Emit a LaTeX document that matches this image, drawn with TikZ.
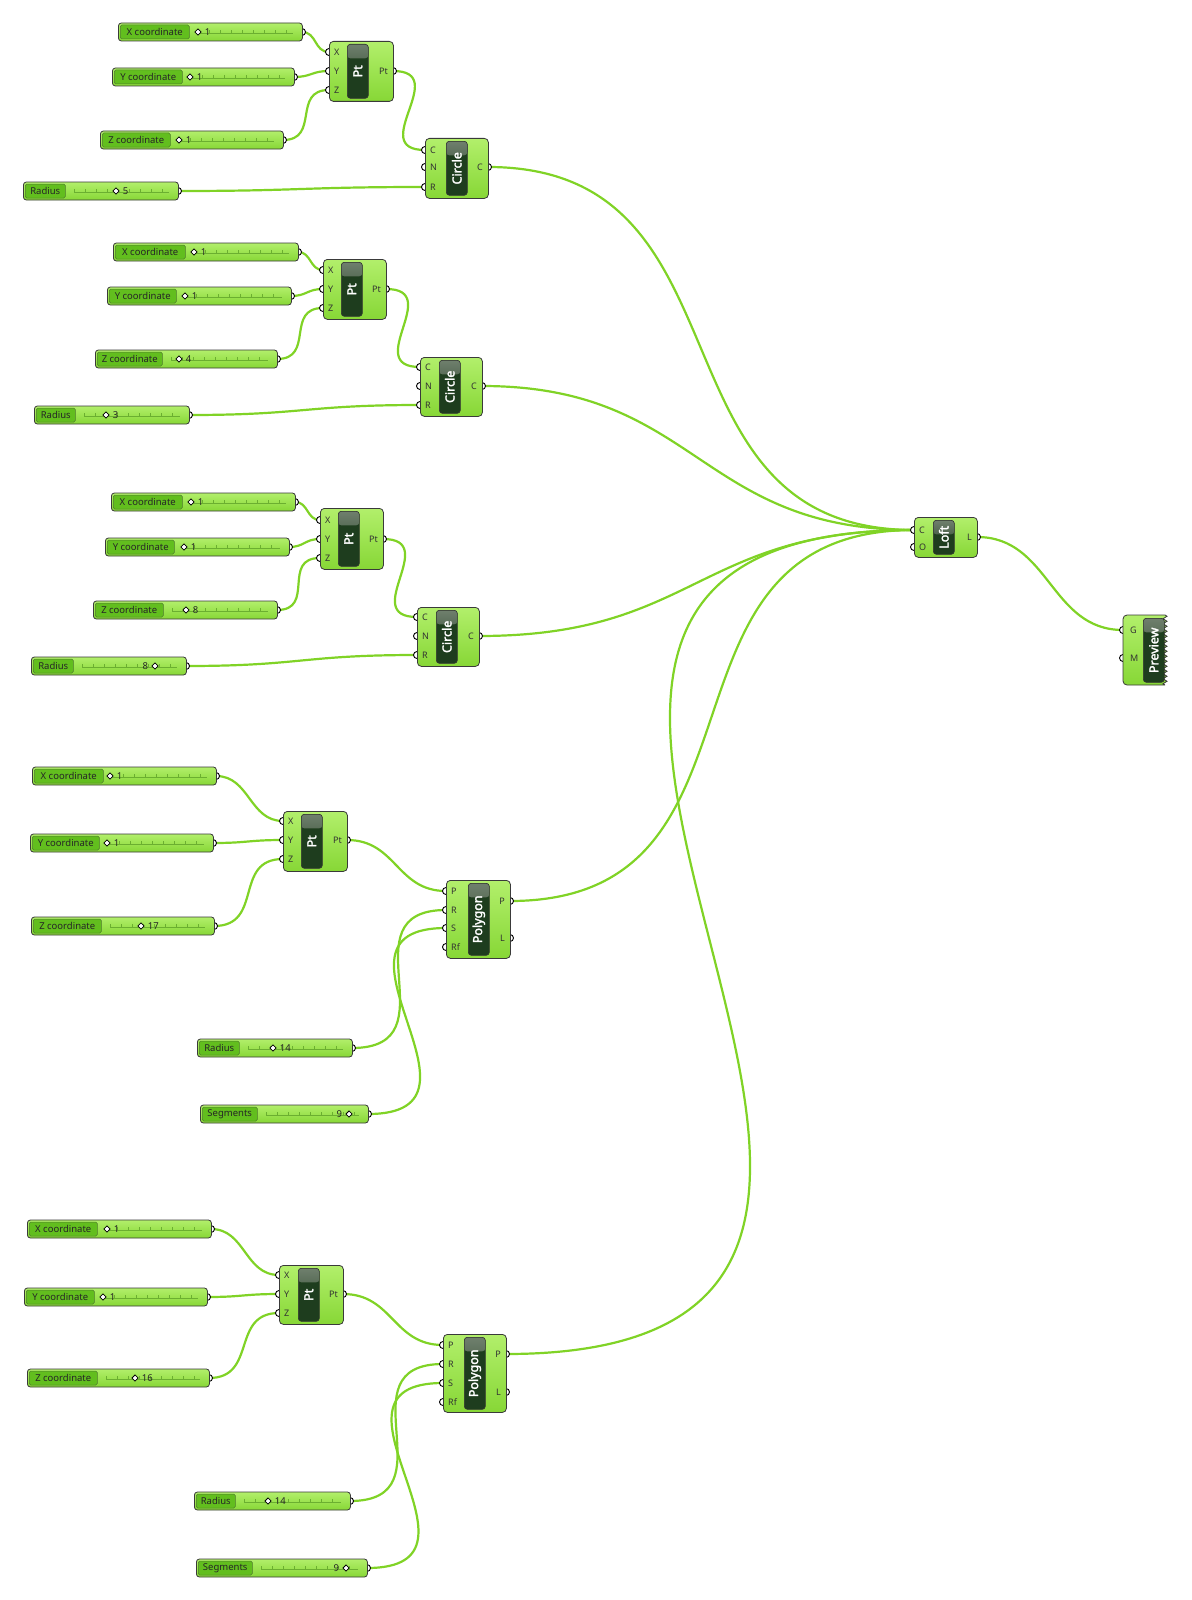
\documentclass[tikz,border=0pt]{standalone}
\usepackage{fontspec}
\setmainfont{Noto Sans}[AutoFakeBold=2.2]
\usetikzlibrary{positioning,calc,backgrounds,shapes.geometric,decorations.pathmorphing}
\definecolor{ghwire}{HTML}{80D326}
\definecolor{ghtop}{HTML}{B2EF6B}
\definecolor{ghbot}{HTML}{87D736}
\definecolor{ghlab}{HTML}{62BE1E}
\definecolor{ghbar}{HTML}{1E3D1E}
\definecolor{ghbarhi}{HTML}{6F7F6D}
\definecolor{ghline}{HTML}{3A3A3A}
\definecolor{ghtick}{HTML}{6BAF30}

% slider: name, left, right, y, split, label, knob x, value, side of value
\newcommand{\ghslider}[9]{%
  \node[port] (#1o) at (#3,#4) {};
  \node[sbody,minimum width={(#3-#2)*1pt},anchor=west] (#1) at (#2,#4) {};
  \node[slabel,minimum width={(#5-#2-2)*1pt},anchor=west] (#1l) at (#2+2,#4) {#6};
  \pgfmathsetmacro\slA{#5+9}\pgfmathsetmacro\slB{#5+20}\pgfmathsetmacro\slC{#3-9}
  \draw[stick] (\slA,#4+1.5) -- (\slC,#4+1.5);
  \foreach \tx in {\slA,\slB,...,\slC} \draw[stick] (\tx,#4+1.5) -- (\tx,#4-2);
  \node[knob] (#1d) at (#7,#4) {};
  \node[sval,#9=3pt of #1d] (#1v) {#8};
}

% component: name, left, top, right, bottom, bar left, title, inputs, outputs
\newcommand{\ghcomp}[9]{%
  \foreach \pl/\py in {#8} \node[port] (#1-in-\pl) at (#2,\py) {};
  \foreach \pl/\py in {#9} \node[port] (#1-out-\pl) at (#4,\py) {};
  \node[cbody,minimum width={(#4-#2)*1pt},minimum height={(#5-#3)*1pt},anchor=north west] (#1) at (#2,#3) {};
  \foreach \pl/\py in {#8} \node[plab,anchor=west] (#1-il-\pl) at (#2+5,\py) {\pl};
  \foreach \pl/\py in {#9} \node[plab,anchor=east] (#1-ol-\pl) at (#4-5,\py) {\pl};
  \node[cbar,minimum height={(#5-#3-6)*1pt},anchor=north west] (#1b) at (#6,#3+3) {};
  \node[ctitle] (#1t) at (#1b.center) {#7};
}

% wire with horizontal tangents at both ports
\newcommand{\ghwire}[2]{%
  \draw[wire] let \p1=(#1.center), \p2=(#2.center),
    \n1={max(0.5*abs(\x2-\x1),0.75*abs(\y2-\y1))} in
    (\p1) .. controls +(\n1,0) and +(-\n1,0) .. (\p2);
}

\begin{document}
\begin{tikzpicture}[x=1pt,y=-1pt,
  every node/.style={font=\fontsize{9.5}{11}\selectfont},
  port/.style={circle,draw=black,fill=white,line width=0.9pt,minimum size=7pt,inner sep=0pt},
  sbody/.style={draw=ghline,line width=0.8pt,rounded corners=3pt,top color=ghtop,bottom color=ghbot,minimum height=18pt,inner sep=0pt},
  slabel/.style={draw=ghline!50!ghlab,line width=0.5pt,fill=ghlab,rounded corners=1.5pt,minimum height=14pt,inner sep=0pt,text=black!85},
  stick/.style={draw=ghtick,line width=0.45pt},
  knob/.style={diamond,draw=black,fill=white,line width=0.8pt,minimum size=6.5pt,inner sep=0pt},
  sval/.style={inner sep=0pt,text=black!85},
  cbody/.style={draw=ghline,line width=0.8pt,rounded corners=4pt,top color=ghtop,bottom color=ghbot,inner sep=0pt},
  pbody/.style={draw=ghline,line width=0.8pt,top color=ghtop,bottom color=ghbot},
  cbar/.style={draw=black!80,line width=0.6pt,fill=ghbar,rounded corners=3pt,minimum width=21pt,inner sep=0pt,
    path picture={\shade[top color=ghbarhi,bottom color=ghbar]
      (path picture bounding box.north west) rectangle ([yshift=-14pt]path picture bounding box.north east);}},
  ctitle/.style={text=white,rotate=90,inner sep=0pt,font=\bfseries\fontsize{12.5}{13}\selectfont},
  plab/.style={inner sep=0pt,text=black!80,font=\fontsize{9}{10}\selectfont},
  wire/.style={draw=ghwire,line width=2.2pt}]

\useasboundingbox (0,0) rectangle (1191,1600);

% first circle: sliders, point, circle
\ghslider{sx1}{118}{302}{32}{189}{X coordinate}{198}{1}{right}
\ghslider{sy1}{112}{294}{77}{182}{Y coordinate}{190}{1}{right}
\ghslider{sz1}{100}{283}{140}{170}{Z coordinate}{179}{1}{right}
\ghslider{sr1}{23}{178}{191}{65}{Radius}{116}{5}{right}
\ghcomp{pt1}{329}{41}{393}{101}{347}{Pt}{X/52,Y/71,Z/90}{Pt/71}
\ghcomp{circ1}{425}{138}{488}{198}{446}{Circle}{C/150,N/167,R/187}{C/167}

% second circle
\ghslider{sx2}{113}{298}{252}{185}{X coordinate}{194}{1}{right}
\ghslider{sy2}{107}{291}{296}{176}{Y coordinate}{185}{1}{right}
\ghslider{sz2}{95}{277}{359}{162}{Z coordinate}{179}{4}{right}
\ghslider{sr2}{34}{189}{415}{75}{Radius}{106}{3}{right}
\ghcomp{pt2}{323}{259}{386}{319}{341}{Pt}{X/270,Y/289,Z/308}{Pt/289}
\ghcomp{circ2}{420}{357}{482}{416}{439}{Circle}{C/367,N/386,R/405}{C/386}

% third circle
\ghslider{sx3}{111}{295}{502}{182}{X coordinate}{191}{1}{right}
\ghslider{sy3}{105}{289}{547}{174}{Y coordinate}{184}{1}{right}
\ghslider{sz3}{93}{277}{610}{163}{Z coordinate}{186}{8}{right}
\ghslider{sr3}{31}{186}{666}{73}{Radius}{155}{8}{left}
\ghcomp{pt3}{320}{508}{383}{569}{338}{Pt}{X/520,Y/539,Z/558}{Pt/539}
\ghcomp{circ3}{417}{607}{479}{666}{436}{Circle}{C/617,N/636,R/655}{C/636}

% first polygon
\ghslider{sx4}{32}{216}{776}{103}{X coordinate}{110}{1}{right}
\ghslider{sy4}{30}{213}{843}{99}{Y coordinate}{107}{1}{right}
\ghslider{sz4}{31}{214}{926}{101}{Z coordinate}{141}{17}{right}
\ghslider{sr4}{197}{352}{1048}{239}{Radius}{273}{14}{right}
\ghslider{ss4}{200}{368}{1114}{257}{Segments}{349}{9}{left}
\ghcomp{pt4}{283}{811}{347}{871}{301}{Pt}{X/821,Y/840,Z/859}{Pt/840}
\ghcomp{poly1}{446}{880}{510}{958}{468}{Polygon}{P/891,R/910,S/928,Rf/947}{P/901,L/938}

% second polygon
\ghslider{sx5}{27}{211}{1229}{97}{X coordinate}{107}{1}{right}
\ghslider{sy5}{24}{207}{1297}{94}{Y coordinate}{103}{1}{right}
\ghslider{sz5}{27}{209}{1378}{97}{Z coordinate}{135}{16}{right}
\ghslider{sr5}{194}{350}{1501}{235}{Radius}{268}{14}{right}
\ghslider{ss5}{196}{367}{1568}{252}{Segments}{346}{9}{left}
\ghcomp{pt5}{279}{1265}{343}{1324}{298}{Pt}{X/1275,Y/1294,Z/1313}{Pt/1294}
\ghcomp{poly2}{443}{1334}{506}{1412}{464}{Polygon}{P/1345,R/1364,S/1383,Rf/1402}{P/1354,L/1392}

% loft
\ghcomp{loft}{914}{517}{977}{557}{933}{Loft}{C/530,O/547}{L/537}

% preview with its jagged edge
\node[port] (prev-in-G) at (1123,630) {};
\node[port] (prev-in-M) at (1123,658) {};
\draw[pbody] (1165,615) decorate[decoration={zigzag,segment length=5pt,amplitude=2pt}] {-- (1165,685)}
  [rounded corners=4pt] -- (1123,685) -- (1123,615) [sharp corners] -- cycle;
\node[plab,anchor=west] (prev-il-G) at (1130,630) {G};
\node[plab,anchor=west] (prev-il-M) at (1130,658) {M};
\node[cbar,minimum height=64pt,anchor=north west] (prevb) at (1143,618) {};
\node[ctitle] (prevt) at (prevb.center) {Preview};

% wires behind everything
\begin{scope}[on background layer]
  \fill[white] (0,0) rectangle (1191,1600);
  \ghwire{sx1o}{pt1-in-X}
  \ghwire{sy1o}{pt1-in-Y}
  \ghwire{sz1o}{pt1-in-Z}
  \ghwire{pt1-out-Pt}{circ1-in-C}
  \ghwire{sr1o}{circ1-in-R}
  \ghwire{sx2o}{pt2-in-X}
  \ghwire{sy2o}{pt2-in-Y}
  \ghwire{sz2o}{pt2-in-Z}
  \ghwire{pt2-out-Pt}{circ2-in-C}
  \ghwire{sr2o}{circ2-in-R}
  \ghwire{sx3o}{pt3-in-X}
  \ghwire{sy3o}{pt3-in-Y}
  \ghwire{sz3o}{pt3-in-Z}
  \ghwire{pt3-out-Pt}{circ3-in-C}
  \ghwire{sr3o}{circ3-in-R}
  \ghwire{sx4o}{pt4-in-X}
  \ghwire{sy4o}{pt4-in-Y}
  \ghwire{sz4o}{pt4-in-Z}
  \ghwire{pt4-out-Pt}{poly1-in-P}
  \ghwire{sr4o}{poly1-in-R}
  \ghwire{ss4o}{poly1-in-S}
  \ghwire{sx5o}{pt5-in-X}
  \ghwire{sy5o}{pt5-in-Y}
  \ghwire{sz5o}{pt5-in-Z}
  \ghwire{pt5-out-Pt}{poly2-in-P}
  \ghwire{sr5o}{poly2-in-R}
  \ghwire{ss5o}{poly2-in-S}
  \ghwire{circ1-out-C}{loft-in-C}
  \ghwire{circ2-out-C}{loft-in-C}
  \ghwire{circ3-out-C}{loft-in-C}
  \ghwire{poly1-out-P}{loft-in-C}
  \ghwire{poly2-out-P}{loft-in-C}
  \ghwire{loft-out-L}{prev-in-G}
\end{scope}

\end{tikzpicture}
\end{document}
